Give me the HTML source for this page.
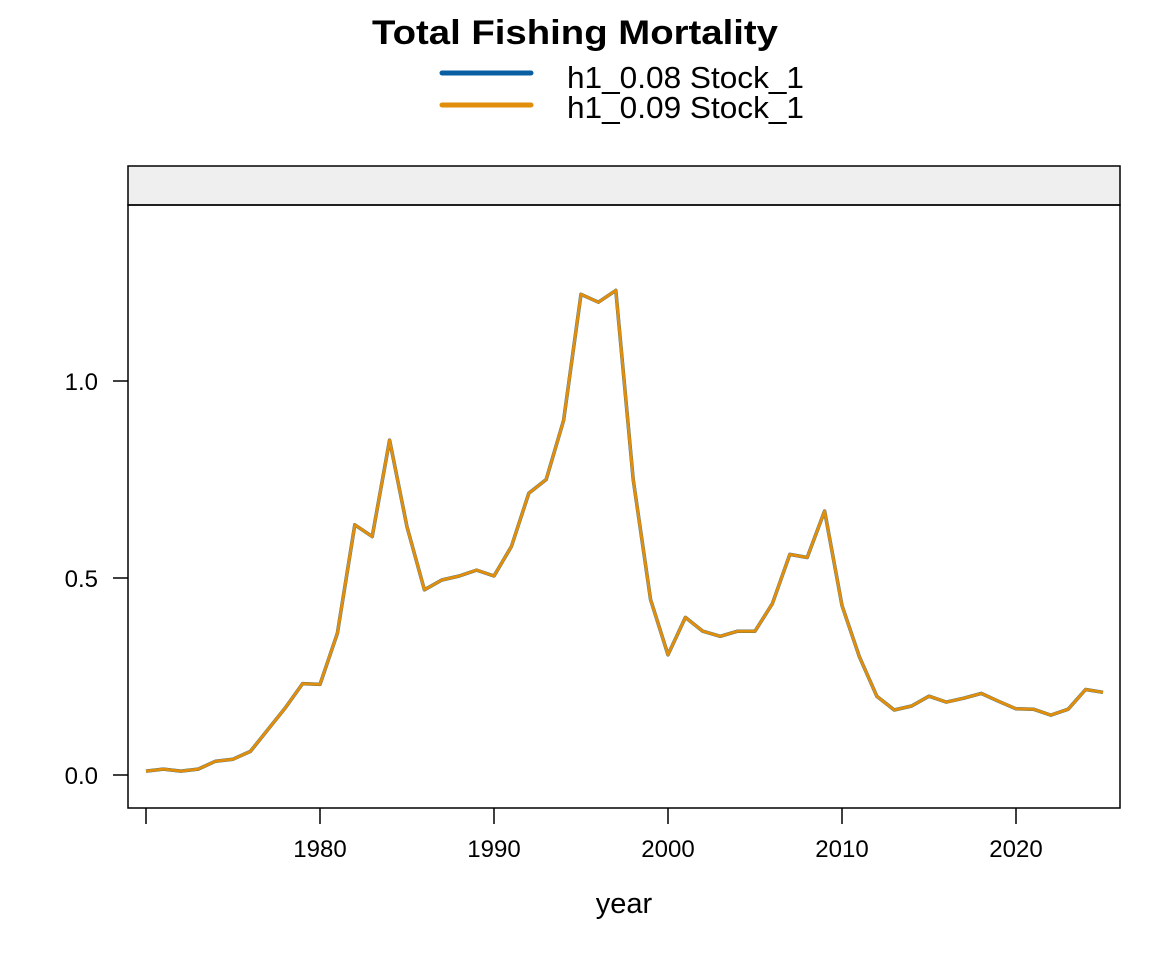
<!DOCTYPE html>
<html><head><meta charset="utf-8"><style>
html,body{margin:0;padding:0;background:#fff;}
svg{display:block;font-family:"Liberation Sans",Arial,sans-serif;}
</style></head><body>
<svg id="s" width="1152" height="960" viewBox="0 0 1152 960">
<text x="372" y="44" font-size="34" font-weight="bold" textLength="406" lengthAdjust="spacingAndGlyphs">Total Fishing Mortality</text>
<line x1="442" y1="73" x2="531" y2="73" stroke="#0a5fa3" stroke-width="5" stroke-linecap="round"/>
<text x="567" y="88" font-size="31" textLength="237" lengthAdjust="spacingAndGlyphs">h1_0.08 Stock_1</text>
<line x1="442" y1="105" x2="531" y2="105" stroke="#e08e0b" stroke-width="5" stroke-linecap="round"/>
<text x="567" y="118" font-size="31" textLength="237" lengthAdjust="spacingAndGlyphs">h1_0.09 Stock_1</text>
<rect x="128" y="166" width="992" height="39" fill="#efefef" stroke="#000" stroke-width="1.5"/>
<rect x="128" y="205" width="992" height="603" fill="none" stroke="#000" stroke-width="1.5"/>
<g id="ax" stroke="#000" stroke-width="1.5"></g>
<g font-size="24" text-anchor="middle">
<text x="320" y="857">1980</text><text x="494" y="857">1990</text><text x="668" y="857">2000</text><text x="842" y="857">2010</text><text x="1016" y="857">2020</text>
</g>
<g font-size="24" text-anchor="end">
<text x="98" y="784">0.0</text><text x="98" y="587">0.5</text><text x="98" y="390">1.0</text>
</g>
<text x="624" y="913" text-anchor="middle" font-size="29">year</text>
<polyline id="p1" fill="none" stroke="#0a5fa3" stroke-width="3.5" stroke-linejoin="round"/>
<polyline id="p2" fill="none" stroke="#e08e0b" stroke-width="3" stroke-linejoin="round"/>
</svg>
<script>
var v=[0.01,0.015,0.01,0.015,0.035,0.04,0.06,0.115,0.17,0.232,0.23,0.36,0.635,0.605,0.85,0.63,0.47,0.495,0.505,0.52,0.505,0.58,0.715,0.75,0.9,1.22,1.2,1.23,0.75,0.445,0.305,0.4,0.365,0.352,0.365,0.365,0.435,0.56,0.552,0.67,0.43,0.3,0.2,0.165,0.175,0.2,0.185,0.195,0.207,0.187,0.168,0.167,0.152,0.167,0.217,0.21];
var pts=v.map(function(d,i){return (146+17.4*i).toFixed(1)+","+(775-394*d).toFixed(1);}).join(" ");
document.getElementById("p1").setAttribute("points",pts);
document.getElementById("p2").setAttribute("points",pts);
var ax=document.getElementById("ax"),h="";
for(var y=1970;y<=2020;y+=10){var x=146+17.4*(y-1970);h+='<line x1="'+x+'" y1="808" x2="'+x+'" y2="824"/>';}
[0,0.5,1].forEach(function(d){var y=775-394*d;h+='<line x1="113" y1="'+y+'" x2="128" y2="'+y+'"/>';});
ax.innerHTML=h;
</script>
</body></html>
